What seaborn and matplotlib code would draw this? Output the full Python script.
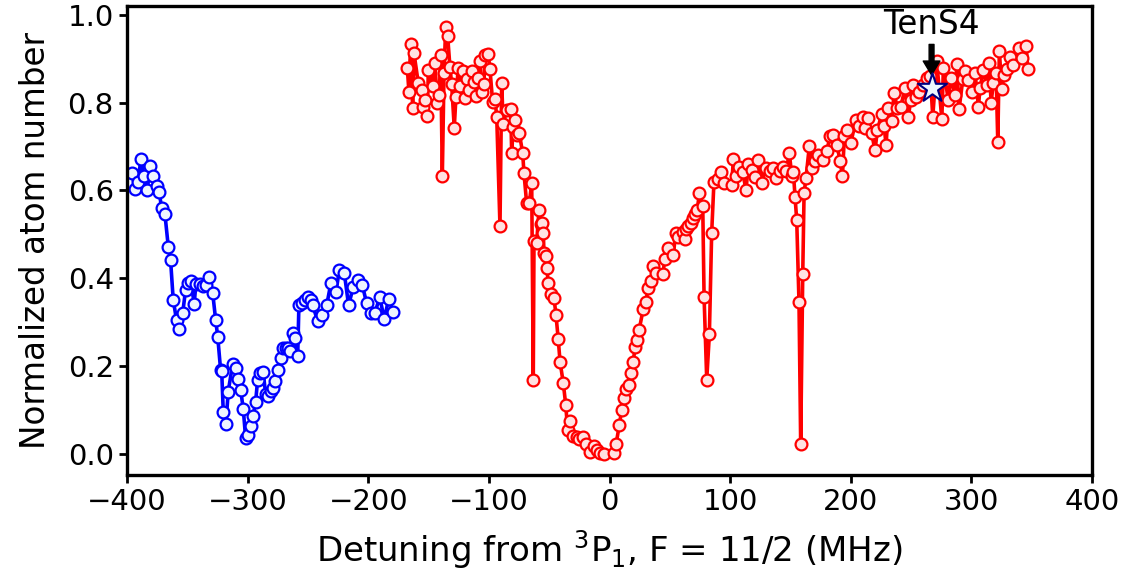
import numpy as np
import pandas as pd
import matplotlib
matplotlib.use("Agg")
import matplotlib.pyplot as plt
import seaborn as sns

# ---- data ----
blue_x = [-395.8, -393.4, -390.8, -388.5, -386.0, -383.2, -381.0, -378.3, -375.5, -373.3,
          -371.3, -368.6, -365.8, -363.9, -361.7, -358.9, -356.7, -353.9, -351.4, -349.8,
          -347.1, -344.3, -342.9, -339.6, -337.3, -334.6, -332.1, -329.0, -326.5, -324.8,
          -322.4, -321.5, -320.2, -318.0, -316.1, -312.4, -309.7, -307.8, -305.8, -303.6,
          -301.7, -299.5, -297.3, -295.4, -293.4, -291.7, -289.8, -287.1, -285.1, -282.9,
          -280.7, -278.8, -277.4, -275.1, -272.6, -270.5, -268.2, -266.3, -264.9, -262.7,
          -260.8, -258.5, -257.5, -255.2, -252.5, -249.8, -247.8, -246.1, -242.0, -238.4,
          -234.5, -230.9, -226.8, -224.0, -219.9, -216.3, -212.4, -208.8, -205.0, -201.3,
          -198.0, -194.4, -190.5, -186.7, -183.1, -179.3]
blue_y = [0.639, 0.604, 0.620, 0.672, 0.632, 0.600, 0.656, 0.634, 0.611, 0.596,
          0.560, 0.547, 0.472, 0.442, 0.351, 0.304, 0.284, 0.320, 0.374, 0.390,
          0.393, 0.342, 0.387, 0.387, 0.383, 0.385, 0.404, 0.367, 0.305, 0.267,
          0.191, 0.188, 0.096, 0.068, 0.142, 0.205, 0.195, 0.171, 0.146, 0.102,
          0.037, 0.043, 0.064, 0.087, 0.118, 0.169, 0.185, 0.186, 0.137, 0.131,
          0.144, 0.150, 0.167, 0.190, 0.219, 0.241, 0.241, 0.241, 0.235, 0.275,
          0.264, 0.222, 0.339, 0.343, 0.351, 0.357, 0.351, 0.339, 0.303, 0.317,
          0.338, 0.390, 0.368, 0.419, 0.413, 0.338, 0.381, 0.396, 0.385, 0.343,
          0.320, 0.322, 0.357, 0.307, 0.353, 0.323]

red_x = [-167.6, -166.3, -164.9, -163.2, -162.1, -158.5, -155.7, -154.3, -152.9, -151.0,
         -150.2, -146.6, -144.7, -142.8, -141.1, -140.0, -138.6, -137.2, -135.8, -134.2,
         -132.3, -130.9, -128.7, -127.3, -125.4, -124.0, -121.8, -119.8, -117.9, -116.3,
         -114.3, -112.4, -110.7, -108.8, -107.4, -106.0, -104.1, -103.2, -100.5, -99.1,
         -96.9, -95.0, -93.5, -90.8, -89.4, -88.1, -85.2, -81.9, -81.1, -79.8,
         -78.4, -77.0, -74.8, -72.0, -70.9, -68.7, -66.5, -64.5, -63.2, -62.6,
         -60.4, -58.5, -57.1, -56.2, -54.9, -54.3, -52.9, -52.1, -50.7, -48.8,
         -46.0, -44.4, -42.5, -41.0, -38.3, -36.3, -34.7, -32.8, -30.0, -27.2,
         -25.0, -21.7, -19.5, -16.2, -12.6, -10.1, -7.9, -4.6, 4.0, 5.4,
         8.1, 10.1, 12.0, 13.7, 16.2, 17.8, 19.7, 21.1, 22.6, 24.5,
         28.0, 30.0, 32.2, 34.2, 36.3, 38.6, 44.1, 46.0, 48.3, 52.9,
         54.9, 57.0, 60.7, 62.6, 63.4, 65.3, 67.3, 69.0, 70.9, 72.8,
         74.5, 77.3, 78.4, 80.6, 82.8, 84.7, 86.6, 90.2, 92.2, 94.9,
         101.3, 102.7, 104.9, 107.6, 110.4, 113.2, 115.1, 117.9, 120.6, 123.4,
         126.2, 129.8, 133.1, 135.8, 138.1, 141.4, 144.1, 146.4, 149.1, 151.1,
         152.4, 153.8, 155.2, 157.1, 158.5, 160.2, 161.3, 162.9, 165.7, 167.7,
         170.4, 173.1, 177.3, 180.1, 182.8, 185.6, 188.4, 191.2, 193.1, 194.7,
         196.7, 200.0, 204.4, 207.1, 210.0, 211.9, 214.6, 217.4, 220.1, 222.1,
         225.7, 227.6, 229.3, 231.2, 234.0, 235.9, 238.6, 241.4, 245.0, 247.8,
         249.7, 251.9, 254.1, 256.9, 259.7, 263.5, 266.0, 268.0, 271.3, 275.5,
         276.8, 280.9, 282.9, 286.5, 287.9, 289.8, 292.9, 294.8, 297.5, 300.3,
         303.1, 305.8, 307.2, 310.0, 312.8, 314.9, 316.3, 318.3, 320.5, 321.9,
         323.2, 325.2, 327.1, 329.3, 332.1, 334.8, 339.8, 341.8, 345.4, 346.8]
red_y = [0.878, 0.825, 0.933, 0.787, 0.913, 0.844, 0.828, 0.790, 0.805, 0.770,
         0.875, 0.837, 0.890, 0.800, 0.818, 0.909, 0.633, 0.867, 0.973, 0.952,
         0.882, 0.843, 0.743, 0.813, 0.879, 0.837, 0.873, 0.810, 0.853, 0.829,
         0.872, 0.848, 0.816, 0.856, 0.894, 0.825, 0.843, 0.909, 0.910, 0.876,
         0.802, 0.809, 0.768, 0.519, 0.844, 0.751, 0.784, 0.785, 0.685, 0.744,
         0.761, 0.727, 0.730, 0.686, 0.639, 0.571, 0.571, 0.617, 0.169, 0.486,
         0.480, 0.556, 0.524, 0.526, 0.504, 0.457, 0.451, 0.423, 0.390, 0.364,
         0.355, 0.317, 0.261, 0.210, 0.161, 0.112, 0.055, 0.074, 0.041, 0.038,
         0.034, 0.038, 0.023, 0.005, 0.018, 0.009, 0.002, 0.000, 0.002, 0.022,
         0.065, 0.100, 0.127, 0.147, 0.157, 0.185, 0.209, 0.243, 0.260, 0.282,
         0.330, 0.347, 0.377, 0.394, 0.428, 0.412, 0.410, 0.443, 0.469, 0.453,
         0.503, 0.494, 0.506, 0.489, 0.512, 0.519, 0.527, 0.537, 0.547, 0.556,
         0.595, 0.565, 0.358, 0.169, 0.273, 0.503, 0.620, 0.626, 0.641, 0.618,
         0.613, 0.671, 0.633, 0.654, 0.641, 0.601, 0.661, 0.647, 0.630, 0.670,
         0.618, 0.651, 0.645, 0.651, 0.628, 0.645, 0.654, 0.645, 0.685, 0.633,
         0.643, 0.586, 0.533, 0.345, 0.022, 0.410, 0.594, 0.628, 0.702, 0.651,
         0.666, 0.681, 0.670, 0.689, 0.723, 0.727, 0.704, 0.668, 0.632, 0.723,
         0.738, 0.708, 0.761, 0.747, 0.768, 0.742, 0.765, 0.730, 0.691, 0.738,
         0.774, 0.747, 0.704, 0.787, 0.759, 0.823, 0.787, 0.790, 0.833, 0.768,
         0.806, 0.841, 0.813, 0.825, 0.841, 0.855, 0.860, 0.768, 0.894, 0.762,
         0.878, 0.806, 0.856, 0.818, 0.888, 0.785, 0.853, 0.871, 0.851, 0.825,
         0.867, 0.790, 0.833, 0.874, 0.841, 0.891, 0.800, 0.844, 0.867, 0.710,
         0.917, 0.831, 0.863, 0.876, 0.905, 0.886, 0.924, 0.901, 0.929, 0.876]

star_x = [267.0]
star_y = [0.833]
star_label = "TenS4"

xlabel = r"Detuning from $^{3}$P$_{1}$, F = 11/2 (MHz)"
ylabel = "Normalized atom number"
xticks = [-400, -300, -200, -100, 0, 100, 200, 300, 400]
yticks = [0.0, 0.2, 0.4, 0.6, 0.8, 1.0]

# ---- plot ----
sns.set_theme(style="ticks")
plt.rcParams["font.family"] = ["DejaVu Sans"]
plt.rcParams["text.color"] = "black"
plt.rcParams["axes.labelcolor"] = "black"

fig = plt.figure(figsize=(11.26, 5.78), dpi=100)
ax = fig.add_axes([0.1128, 0.1782, 0.857, 0.8114])

blue_df = pd.DataFrame({"x": blue_x, "y": blue_y})
red_df = pd.DataFrame({"x": red_x, "y": red_y})

sns.lineplot(data=blue_df, x="x", y="y", ax=ax, color="blue", lw=2.6,
             marker="o", markersize=8.5, markerfacecolor="#eef4ff",
             markeredgecolor="blue", markeredgewidth=1.6,
             estimator=None, sort=True)
sns.lineplot(data=red_df, x="x", y="y", ax=ax, color="red", lw=2.6,
             marker="o", markersize=8.5, markerfacecolor="#ffe2e2",
             markeredgecolor="red", markeredgewidth=1.6,
             estimator=None, sort=True)
sns.scatterplot(x=star_x, y=star_y, ax=ax, marker="*", s=480,
                color="#eef6ff", edgecolor="navy", linewidth=1.5, zorder=5)

ax.annotate(star_label, xy=(star_x[0], star_y[0] + 0.03),
            xytext=(star_x[0], 0.94),
            ha="center", va="bottom", fontsize=23.5, color="black",
            arrowprops=dict(facecolor="black", edgecolor="black",
                            width=3.5, headwidth=12, headlength=10, shrink=0.0))

ax.set_xlim(-400, 400)
ax.set_ylim(-0.048, 1.02)
ax.set_xticks(xticks)
ax.set_yticks(yticks)
ax.set_xticklabels([("\u2212" + str(abs(t))) if t < 0 else str(t) for t in xticks])
ax.set_yticklabels([f"{t:.1f}" for t in yticks])
ax.set_xlabel(xlabel, fontsize=24.5, labelpad=9, color="black")
ax.set_ylabel(ylabel, fontsize=23.5, labelpad=11, color="black")
ax.tick_params(axis="both", labelsize=21, width=2, length=6, direction="out",
               color="black", labelcolor="black")
for s in ax.spines.values():
    s.set_linewidth(2.4)
    s.set_color("black")

fig.savefig("out.png", dpi=100)
